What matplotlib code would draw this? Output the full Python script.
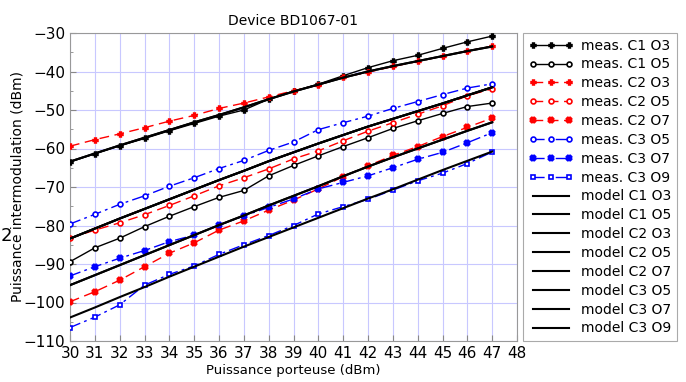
import matplotlib
matplotlib.use("Agg")
import matplotlib.pyplot as plt
from matplotlib.ticker import MultipleLocator

plt.rcParams['font.family'] = ['DejaVu Sans']

power = list(range(30, 48))

meas_c1_o3 = [-63.5, -61.3, -59.3, -57.4, -55.4, -53.5, -51.6, -50.0, -47.2, -45.1,
              -43.3, -41.1, -39.0, -37.2, -35.8, -34.0, -32.3, -30.8]
meas_c1_o5 = [-89.4, -85.8, -83.3, -80.3, -77.6, -75.1, -72.7, -70.9, -67.1, -64.4,
              -61.9, -59.5, -57.2, -54.8, -52.8, -50.9, -49.1, -48.2]
meas_c2_o3 = [-59.4, -57.7, -56.2, -54.6, -52.9, -51.4, -49.6, -48.2, -46.6, -45.0,
              -43.5, -41.5, -40.2, -38.7, -37.4, -36.0, -34.7, -33.4]
meas_c2_o5 = [-83.3, -81.2, -79.3, -77.2, -74.8, -72.3, -69.7, -67.6, -65.3, -62.7,
              -60.6, -58.0, -55.5, -53.3, -51.1, -48.9, -46.3, -44.5]
meas_c2_o7 = [-99.8, -97.2, -94.2, -90.7, -87.2, -84.5, -81.2, -78.8, -76.0, -73.4,
              -70.5, -67.3, -64.5, -61.8, -59.5, -56.9, -54.5, -52.1]
meas_c3_o5 = [-79.6, -77.1, -74.5, -72.3, -69.8, -67.6, -65.2, -63.1, -60.5, -58.3,
              -55.1, -53.3, -51.6, -49.6, -47.8, -46.0, -44.3, -43.2]
meas_c3_o7 = [-93.1, -90.7, -88.5, -86.5, -84.2, -82.5, -79.9, -77.5, -75.3, -73.1,
              -70.5, -68.8, -67.1, -65.0, -62.8, -61.0, -58.5, -55.9]
meas_c3_o9 = [-106.5, -103.8, -100.6, -95.5, -92.7, -90.5, -87.5, -85.0, -82.6, -80.0,
              -77.0, -75.1, -73.2, -70.8, -68.4, -66.4, -63.9, -60.9]

model_o3 = [-63.4, -61.3, -59.2, -57.2, -55.2, -53.2, -51.3, -49.3, -47.2, -45.2,
            -43.4, -41.6, -40.0, -38.6, -37.3, -36.0, -34.7, -33.5]
model_o5 = [-83.4, -80.8, -78.2, -75.7, -73.2, -70.7, -68.2, -65.8, -63.3, -61.0,
            -58.7, -56.5, -54.3, -52.3, -50.3, -48.3, -46.2, -44.1]
model_o7 = [-95.5, -92.9, -90.3, -87.7, -85.1, -82.5, -79.9, -77.4, -74.8, -72.3,
            -69.8, -67.2, -64.7, -62.3, -60.0, -57.7, -55.4, -53.2]
model_o9 = [-103.9, -101.3, -98.6, -96.0, -93.3, -90.7, -88.1, -85.5, -83.0, -80.5,
            -78.0, -75.5, -73.0, -70.6, -68.1, -65.6, -63.2, -60.8]

meas_labels = ["meas. C1 O3", "meas. C1 O5", "meas. C2 O3", "meas. C2 O5",
               "meas. C2 O7", "meas. C3 O5", "meas. C3 O7", "meas. C3 O9"]
model_labels = ["model C1 O3", "model C1 O5", "model C2 O3", "model C2 O5",
                "model C2 O7", "model C3 O5", "model C3 O7", "model C3 O9"]

fig = plt.figure(figsize=(6.86, 3.82), dpi=100)
ax = fig.add_axes([70/686, 1-341/382, 447/686, 308/382])

dash = (0, (7, 4))
dashdot = (0, (8, 3, 2, 3))
meas_series = [
    (meas_c1_o3, 'black', '-', 'P', 'black', 3.5),
    (meas_c1_o5, 'black', '-', 'o', 'white', 3.5),
    (meas_c2_o3, 'red', dash, 'P', 'red', 3.5),
    (meas_c2_o5, 'red', dash, 'o', 'white', 3.5),
    (meas_c2_o7, 'red', dash, 'X', 'red', 4.0),
    (meas_c3_o5, 'blue', dashdot, 'o', 'white', 3.5),
    (meas_c3_o7, 'blue', dashdot, 'X', 'blue', 4.0),
    (meas_c3_o9, 'blue', dashdot, 's', 'white', 3.5),
]
handles = []
for (vals, col, ls, mk, mfc, ms), lab in zip(meas_series, meas_labels):
    h, = ax.plot(power, vals, color=col, linestyle=ls, linewidth=1.0, marker=mk,
                 markersize=ms, markerfacecolor=mfc, markeredgecolor=col,
                 markeredgewidth=1.2, label=lab, zorder=3)
    handles.append(h)

models = [model_o3, model_o5, model_o3, model_o5, model_o7, model_o5, model_o7, model_o9]
for vals, lab in zip(models, model_labels):
    h, = ax.plot(power, vals, color='black', linestyle='-', linewidth=1.5,
                 label=lab, zorder=4)
    handles.append(h)

ax.set_xlim(30, 48)
ax.set_ylim(-110, -30)
ax.xaxis.set_major_locator(MultipleLocator(1))
ax.yaxis.set_major_locator(MultipleLocator(10))
ax.yaxis.set_minor_locator(MultipleLocator(5))
ax.grid(True, which='major', color='#c8c8ff', linewidth=0.8)
ax.tick_params(which='both', direction='in', labelsize=11, color='#888888',
               top=False, right=False)
ax.tick_params(which='major', length=4)
ax.tick_params(which='minor', length=2)
for s in ax.spines.values():
    s.set_color('#999999')

ax.set_title("Device BD1067-01", fontsize=10, pad=6)
ax.set_xlabel("Puissance porteuse (dBm)", fontsize=9.5, labelpad=2)
ax.set_ylabel("Puissance intermodulation (dBm)", fontsize=10)
ax.yaxis.set_label_coords(-(70 - 25) / 447, 0.5)

leg = fig.legend(handles=handles, loc='upper left',
                 bbox_to_anchor=(523/686, 1-33/382), fontsize=10,
                 frameon=True, fancybox=False, framealpha=1.0,
                 edgecolor='#aaaaaa', handlelength=3.2, handletextpad=0.6,
                 labelspacing=0.35, borderpad=0.4, borderaxespad=0,
                 numpoints=3)
leg.get_frame().set_linewidth(0.8)

fig.text(6/686, 1-236/382, "2", fontsize=13, ha='center', va='center')

fig.savefig("out.png", dpi=100)
